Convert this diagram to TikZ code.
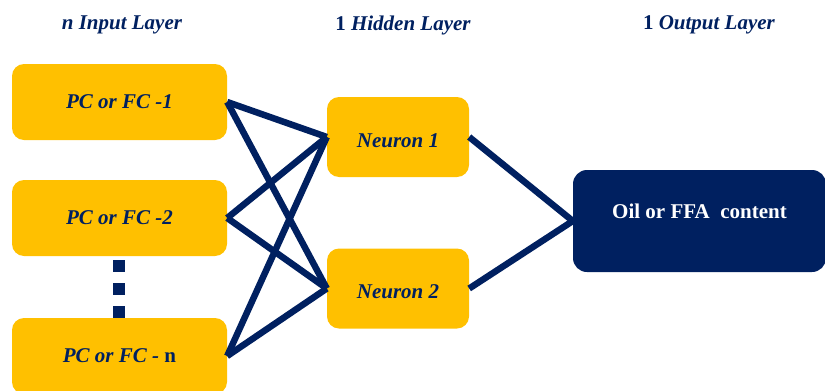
\documentclass[tikz,border=0pt]{standalone}
\usepackage{fontspec}
\setmainfont{Liberation Serif}
\definecolor{navy}{HTML}{002060}
\definecolor{gold}{HTML}{FFC000}
\begin{document}
\begin{tikzpicture}[x=1pt,y=-1pt,
  inbox/.style={fill=gold,rounded corners=12pt,minimum width=215pt,minimum height=76pt,
    text=navy,font=\fontsize{21}{25}\selectfont\bfseries\itshape},
  hidbox/.style={inbox,minimum width=142pt,minimum height=80pt,text height=20pt,text depth=0pt},
  outbox/.style={fill=navy,rounded corners=14pt,minimum width=253pt,minimum height=102pt,
    text=white,font=\fontsize{21}{25}\selectfont\bfseries,text depth=20pt},
  title/.style={text=navy,font=\fontsize{21}{25}\selectfont\bfseries},
  link/.style={draw=navy,line width=6.5pt},
  dot/.style={fill=navy,minimum size=12pt,inner sep=0pt}]
\useasboundingbox (0,0) rectangle (825,391);
% Layer titles
\node[title] (tin) at (122,25) {\textit{n Input Layer}};
\node[title] (thid) at (403,25) {1 \textit{Hidden Layer}};
\node[title] (tout) at (709,25) {1 \textit{Output Layer}};
% Input layer
\node[inbox] (in1) at (119.5,102) {PC or FC -1};
\node[inbox] (in2) at (119.5,218) {PC or FC -2};
\node[inbox] (in3) at (119.5,356) {PC or FC - \upshape n};
\node[dot] (d1) at (119,266) {};
\node[dot] (d2) at (119,289) {};
\node[dot] (d3) at (119,312) {};
% Hidden layer
\node[hidbox] (h1) at (398,137) {Neuron 1};
\node[hidbox] (h2) at (398,288.5) {Neuron 2};
% Output layer
\node[outbox] (out) at (699.5,221) {Oil or FFA\ \ content};
% Connections
\draw[link] (in1.east) -- (h1.west);
\draw[link] (in1.east) -- (h2.west);
\draw[link] (in2.east) -- (h1.west);
\draw[link] (in2.east) -- (h2.west);
\draw[link] (in3.east) -- (h1.west);
\draw[link] (in3.east) -- (h2.west);
\draw[link] (h1.east) -- (out.west);
\draw[link] (h2.east) -- (out.west);
\end{tikzpicture}
\end{document}
